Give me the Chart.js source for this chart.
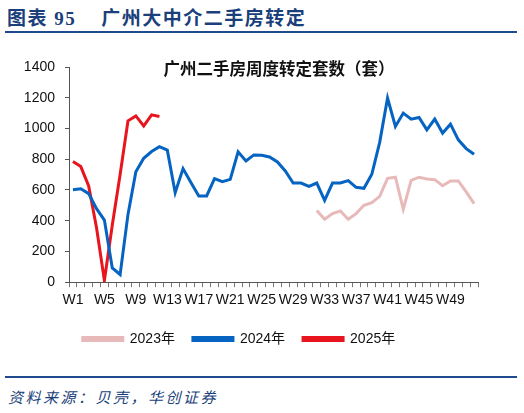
<!DOCTYPE html>
<html>
<head>
<meta charset="utf-8">
<script src="https://cdn.jsdelivr.net/npm/chart.js@4"></script>
<style>
    body { margin: 0; width: 524px; height: 413px; background: #fff; position: relative; overflow: hidden; }
    .head { position: absolute; left: 7px; top: 3px; font: bold 19px "Liberation Serif", "Noto Sans CJK SC"; color: #1b3f7a; letter-spacing: 1.5px; white-space: pre; }
    .rule { position: absolute; left: 5px; width: 512px; height: 2px; background: #1f4b8e; }
    .ctitle { position: absolute; left: 159px; width: 240px; top: 56px; text-align: center; font: bold 16.5px "Noto Sans CJK SC"; color: #111; white-space: nowrap; }
    .src { position: absolute; left: 8px; top: 386px; font: italic 15px "Noto Sans CJK SC"; color: #1b3f7a; letter-spacing: 2.5px; }
    #wrap { position: absolute; left: 0; top: 40px; width: 524px; height: 330px; }
</style>
</head>
<body>
<div class="head">图表 95    广州大中介二手房转定</div>
<div class="rule" style="top:31px"></div>
<div id="wrap"><canvas id="chart"></canvas></div>
<div class="ctitle">广州二手房周度转定套数（套）</div>
<div class="rule" style="top:376px"></div>
<div class="src">资料来源：贝壳，华创证券</div>
<script>
// weeks W1..W52
const weeks = [];
for (let i = 1; i <= 52; i++) weeks.push('W' + i);

const yTicks = [0, 200, 400, 600, 800, 1000, 1200, 1400];

// 2023: data only from W32
const s2023 = [
    null, null, null, null, null, null, null, null, null, null,
    null, null, null, null, null, null, null, null, null, null,
    null, null, null, null, null, null, null, null, null, null,
    null, 467, 409, 446, 463, 409, 446, 500, 518, 558,
    676, 683, 474, 663, 683, 672, 667, 628, 659, 659,
    587, 511
];
const s2024 = [
    602, 608, 576, 478, 404, 93, 50, 441, 719, 806,
    850, 882, 859, 582, 739, 648, 561, 561, 674, 654,
    669, 848, 789, 828, 826, 815, 782, 724, 645, 645,
    624, 645, 533, 645, 645, 661, 617, 611, 702, 910,
    1198, 1013, 1100, 1061, 1072, 991, 1061, 970, 1028, 926,
    869, 833
];
const s2025 = [785, 752, 626, 354, 11, 370, 700, 1050, 1082, 1017, 1089, 1078];

const pink = '#e8b9b9';
const blue = '#0563c1';
const red = '#e8141e';
const font = '"Liberation Sans", "Noto Sans CJK SC"';

function line(label, data, color) {
    return {
        label: label,
        data: data,
        borderColor: color,
        backgroundColor: color,
        borderWidth: 3,
        pointRadius: 0,
        tension: 0,
        spanGaps: false
    };
}

new Chart(document.getElementById('chart').getContext('2d'), {
    type: 'line',
    data: {
        labels: weeks,
        datasets: [
            line('2023年', s2023, pink),
            line('2024年', s2024, blue),
            line('2025年', s2025, red)
        ]
    },
    options: {
        responsive: true,
        maintainAspectRatio: false,
        animation: false,
        layout: { padding: { left: 0, right: 46, top: 27, bottom: 14 } },
        scales: {
            x: {
                offset: true,
                grid: { drawOnChartArea: false, color: '#777', tickLength: 5, offset: true },
                border: { color: '#555', width: 1 },
                ticks: {
                    autoSkip: false,
                    maxRotation: 0,
                    padding: 5,
                    color: '#111',
                    font: { family: font, size: 14 },
                    callback: (v, i) => (i % 4 === 0 ? weeks[i] : '')
                }
            },
            y: {
                min: 0,
                max: 1400,
                afterBuildTicks: (s) => { s.ticks = yTicks.map(v => ({ value: v })); },
                afterFit: (s) => { s.width = 69; },
                grid: { drawOnChartArea: false, color: '#555', tickLength: 4 },
                border: { color: '#555', width: 1 },
                ticks: { color: '#111', padding: 10, font: { family: font, size: 14 }, callback: (v) => String(v) }
            }
        },
        plugins: {
            legend: {
                position: 'bottom',
                labels: { boxWidth: 40, boxHeight: 3, padding: 18, color: '#111', font: { family: font, size: 14 } }
            },
            tooltip: { enabled: false }
        }
    }
});
</script>
</body>
</html>
